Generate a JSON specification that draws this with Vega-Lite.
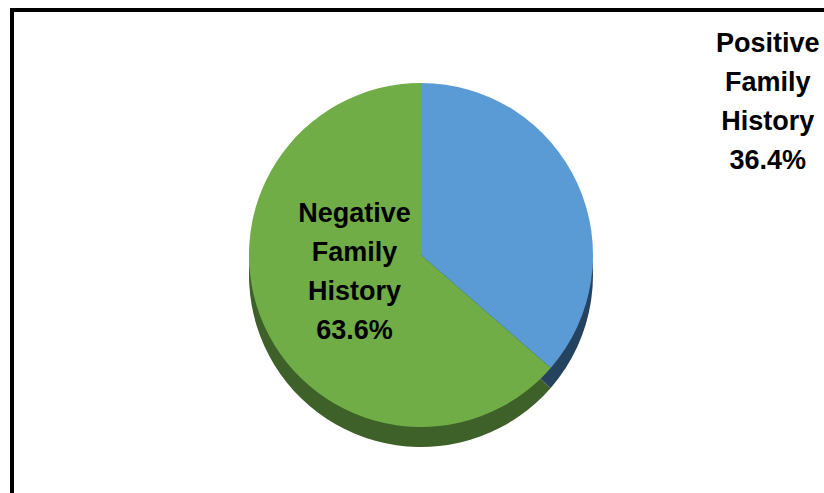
{
  "$schema": "https://vega.github.io/schema/vega-lite/v6.json",
  "autosize": "none",
  "padding": {"left": 12, "top": 10, "right": 0, "bottom": 0},
  "width": 818,
  "height": 490,
  "background": "white",
  "config": {"view": {"stroke": "#000000", "strokeWidth": 4}},
  "data": {"values": [
    {"Category": "Positive Family History", "Label": "Positive\nFamily\nHistory\n36.4%", "Percent": 36.4},
    {"Category": "Negative Family History", "Label": "Negative\nFamily\nHistory\n63.6%", "Percent": 63.6}
  ]},
  "layer": [
    {
      "mark": {"type": "point", "opacity": 0},
      "encoding": {
        "x": {"datum": 0, "type": "quantitative", "axis": null},
        "y": {"datum": 0, "type": "quantitative", "axis": null}
      }
    },
    {
      "mark": {"type": "arc", "outerRadius": 172, "yOffset": 20},
      "encoding": {
        "theta": {"field": "Percent", "type": "quantitative", "stack": true},
        "order": {"field": "Percent", "sort": "ascending"},
        "color": {"field": "Category", "type": "nominal", "legend": null,
          "scale": {"domain": ["Positive Family History", "Negative Family History"], "range": ["#25425F", "#3E6029"]}}
      }
    },
    {
      "mark": {"type": "arc", "outerRadius": 172},
      "encoding": {
        "theta": {"field": "Percent", "type": "quantitative", "stack": true},
        "order": {"field": "Percent", "sort": "ascending"},
        "fill": {"field": "Category", "type": "nominal", "legend": null,
          "scale": {"domain": ["Positive Family History", "Negative Family History"], "range": ["#5B9BD5", "#70AD47"]}}
      }
    },
    {
      "mark": {"type": "text", "font": "Liberation Sans", "fontWeight": "bold", "fontSize": 27, "lineHeight": 39, "lineBreak": "\n", "align": "center", "baseline": "middle", "dy": -58, "color": "#000000"},
      "encoding": {
        "theta": {"field": "Percent", "type": "quantitative", "stack": true},
        "order": {"field": "Percent", "sort": "ascending"},
        "radius": {"field": "Percent", "type": "quantitative", "scale": {"type": "linear", "zero": false, "domain": [36.4, 63.6], "range": [381, 73]}},
        "yOffset": {"field": "Percent", "type": "quantitative", "scale": {"type": "linear", "zero": false, "domain": [36.4, 63.6], "range": [5, -13]}},
        "text": {"field": "Label"}
      }
    }
  ]
}
